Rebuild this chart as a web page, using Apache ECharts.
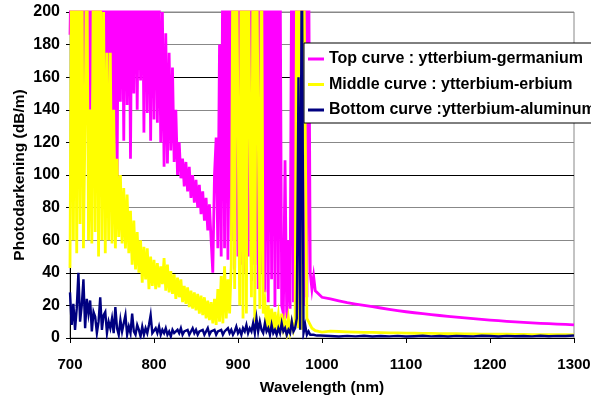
<!DOCTYPE html>
<html>
<head>
<meta charset="utf-8">
<script src="https://cdn.jsdelivr.net/npm/echarts@6/dist/echarts.min.js"></script>
<style>
html,body{margin:0;padding:0;background:#fff;}
#chart{width:591px;height:398px;}
</style>
</head>
<body>
<div id="chart"></div>
<script>
// Wavelength samples (nm)
const wavelength = [
700,702,704,706,708,710,712,714,716,718,720,722,724,726,728,730,732,734,736,738,
740,742,744,746,748,750,752,754,756,758,760,762,764,766,768,770,772,774,776,778,
780,782,784,786,788,790,792,794,796,798,800,802,804,806,808,810,812,814,816,818,
820,822,824,826,828,830,832,834,836,838,840,842,844,846,848,850,852,854,856,858,
860,862,864,866,868,870,872,874,876,878,880,882,884,886,888,890,892,894,896,898,
900,902,904,906,908,910,912,914,916,918,920,922,924,926,928,930,932,934,936,938,
940,942,944,946,948,950,952,954,956,958,960,962,964,966,968,970,972,974,976,978,
980,982,984,986,988,990,992,994,996,998,1000,
1010,1020,1030,1040,1050,1060,1070,1080,1090,1100,1110,1120,1130,1140,1150,
1160,1170,1180,1190,1200,1210,1220,1230,1240,1250,1260,1270,1280,1290,1300
];

// Top curve : ytterbium-germanium (dB/m)
const germanium = [
186,250,150,250,160,250,140,250,140,250,145,250,140,250,135,250,150,250,120,250,
150,250,134,250,140,250,107,250,94,250,
145,250,121,250,143,250,110,250,150,250,
140,250,158,250,126,250,138,250,121,250,
134,250,132,220,120,200,105,187,107,175,
115,166,108,140,100,120,
98,110,93,108,90,105,86,100,83,97,
80,94,76,90,72,86,66,82,60,40,
100,123,55,180,
50,250,55,250,48,250,60,250,42,250,
50,250,45,250,40,250,50,250,35,250,
45,250,30,250,40,250,28,250,22,250,
36,250,19,250,30,250,20,15,109,12,
60,18,250,22,250,30,250,25,250,20,
250,25,250,40,30,38,29,28,27,26,
25,
24,22.8,21.7,20.8,20,19.2,18.4,17.6,16.8,16.1,15.5,14.9,14.3,13.8,13.3,
12.8,12.3,11.9,11.4,11,10.6,10.2,9.9,9.6,9.3,9,8.8,8.5,8.3,8
];

// Middle curve : ytterbium-erbium (dB/m)
const erbium = [
43,250,60,250,52,250,70,250,55,135,250,60,140,58,250,65,250,50,250,60,
200,52,175,60,175,58,140,55,110,62,
100,58,92,55,88,52,78,45,72,42,
65,40,60,34,56,36,55,30,50,32,48,
30,46,31,44,33,49,29,45,28,41,
27,39,24,37,25,36,22,32,21,31,
19,29,18,28,17,27,15,26,14,25,
12,23,11,22,9,24,8,30,10,38,
9,44,12,36,15,45,
250,30,250,250,20,250,12,250,15,250,
250,25,250,10,250,250,18,250,15,22,
6,20,5,18,4,16,6,14,3,15,
6,11,3,12,4,10,5,10,250,6,
250,5,250,250,12,10,8,6,5,4.5,
4,4,3.8,3.6,
4.2,4,3.8,3.6,3.5,3.4,3.3,3.2,3.1,3,2.9,2.8,2.8,2.7,2.6,
2.6,2.5,2.5,2.4,2.4,2.3,2.3,2.2,2.2,2.1,2.1,2,2,2,1.9
];

// Bottom curve : ytterbium-aluminum (dB/m)
const aluminum = [
28,8,21,5,18,40,10,20,36,6,
24,15,23,4,16,13,3,10,25,5,
14,16,3,10,6,12,3,19,6,2,
11,4,9,14,2,7,3,15,4,2,
8,5,1,7,2,6,3,8,14,3,
2,
6,3,7,2,5,3,6,2,4,1,
5,3,2,5,3,6,2,4,3,5,
2,4,6,3,5,2,4,3,5,2,
3,6,2,4,3,5,2,4,3,5,
2,4,3,6,3,5,2,4,7,3,
5,2,6,4,8,3,6,4,9,3,
12,4,10,5,3,9,4,6,2,8,
3,5,2,6,3,9,4,6,2,5,
3,10,4,6,12,160,5,250,3,8,
2,4,2,1.5,2,1,1.5,1,1.5,1,
1.2,0.9,1.3,1,1.4,0.9,1.2,1,1.3,0.9,1.1,1.4,1,1.2,0.9,
1.3,1.1,1,1.4,1.2,0.9,1.3,1.1,1.2,1,1.4,1.1,1.3,1.2,1.5
];

const seriesNames = [
  'Top curve : ytterbium-germanium',
  'Middle curve : ytterbium-erbium',
  'Bottom curve :ytterbium-aluminum'
];
const seriesColors = ['#FF00FF', '#FFFF00', '#000080'];
const seriesWidths = [2.8, 2.8, 2.4];
const seriesValues = [germanium, erbium, aluminum];

const xTicks = { min: 700, max: 1300, interval: 100 };
const yTicks = { min: 0, max: 200, interval: 20 };

const FONT = '"Liberation Sans", Arial, sans-serif';
const gridColors = ['#000','#888','#000','#888','#888','#000','#888','#888','#000','#888','#888'];

const chart = echarts.init(document.getElementById('chart'), null, {renderer: 'canvas'});
chart.setOption({
  animation: false,
  backgroundColor: '#fff',
  grid: {
    left: 70, right: 17, top: 12, bottom: 60,
    containLabel: false,
    outerBoundsMode: 'none',
    show: true, borderColor: '#888', borderWidth: 1, backgroundColor: 'transparent'
  },
  legend: {
    orient: 'vertical',
    left: 304, top: 43,
    data: seriesNames,
    icon: 'rect',
    itemWidth: 16, itemHeight: 3,
    itemGap: 9.5,
    padding: [8, 10, 5, 4],
    backgroundColor: '#fff',
    borderColor: '#000', borderWidth: 1,
    textStyle: { fontFamily: FONT, fontWeight: 'bold', fontSize: 16, color: '#000' }
  },
  xAxis: {
    type: 'value',
    min: xTicks.min, max: xTicks.max, interval: xTicks.interval,
    name: 'Wavelength (nm)', nameLocation: 'middle', nameGap: 41.5,
    nameTextStyle: { fontFamily: FONT, fontWeight: 'bold', fontSize: 15.5, color: '#000' },
    axisLine: { show: true, onZero: false, lineStyle: { color: '#000', width: 1 } },
    axisTick: { show: true, inside: false, length: 5, lineStyle: { color: '#000' } },
    axisLabel: { fontFamily: FONT, fontWeight: 'bold', fontSize: 15, color: '#000', margin: 19,
                 formatter: v => String(v) },
    splitLine: { show: false }
  },
  yAxis: {
    type: 'value',
    min: yTicks.min, max: yTicks.max, interval: yTicks.interval,
    name: 'Photodarkening (dB/m)', nameLocation: 'middle', nameGap: 42, nameRotate: 90,
    nameMoveOverlap: false,
    nameTextStyle: { fontFamily: FONT, fontWeight: 'bold', fontSize: 15.5, color: '#000' },
    axisLine: { show: true, lineStyle: { color: '#000', width: 1 } },
    axisTick: { show: true, inside: false, length: 4, lineStyle: { color: '#000' } },
    axisLabel: { fontFamily: FONT, fontWeight: 'bold', fontSize: 16, color: '#000', margin: 10 },
    splitLine: { show: true, lineStyle: { color: gridColors, width: 1 } }
  },
  series: seriesValues.map((vals, k) => ({
    name: seriesNames[k],
    type: 'line',
    data: wavelength.map((w, i) => [w, vals[i]]),
    showSymbol: false,
    symbol: 'none',
    clip: true,
    color: seriesColors[k],
    lineStyle: { color: seriesColors[k], width: seriesWidths[k], join: 'miter' },
    emphasis: { disabled: true },
    z: 2 + k
  }))
});
</script>
</body>
</html>
